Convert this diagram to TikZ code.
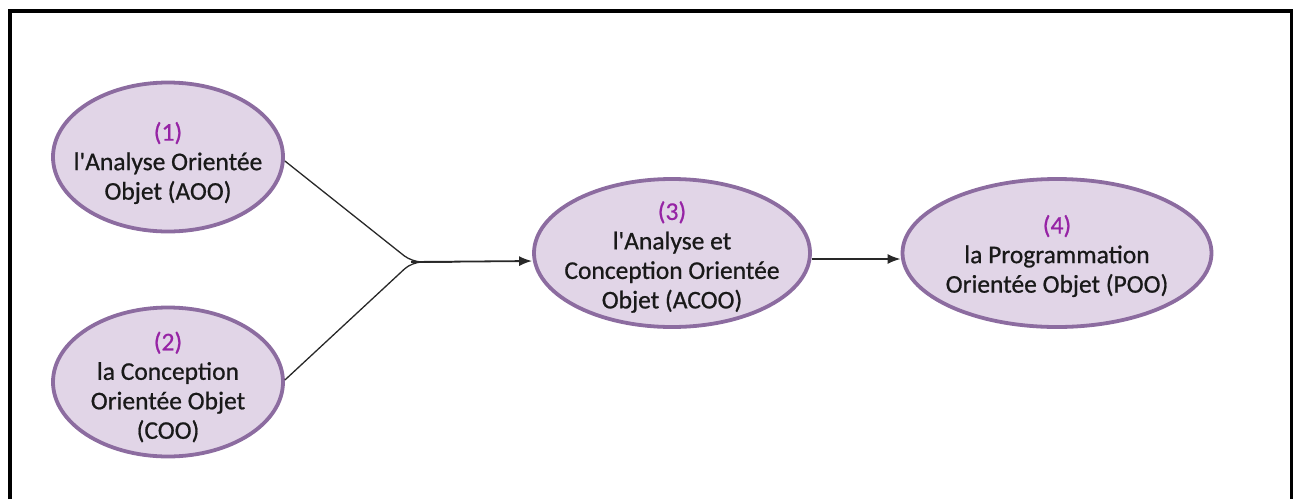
\documentclass[tikz,border=0pt]{standalone}
\usepackage{fontspec}
\setmainfont{Carlito}[Ligatures=TeXOff, FakeBold=0.7]
\usetikzlibrary{shapes.geometric,arrows.meta}
\definecolor{blobfill}{HTML}{E1D5E7}
\definecolor{blobline}{RGB}{140,108,160}
\definecolor{numcol}{RGB}{150,35,165}
\definecolor{txtcol}{RGB}{25,25,25}
\definecolor{linkcol}{RGB}{40,40,40}
\tikzset{
  blob/.style={ellipse, draw=blobline, fill=blobfill, line width=3.8pt, inner sep=0pt},
  txt/.style={align=center, text=txtcol, inner sep=0pt, font=\fontsize{25.5}{29.5}\selectfont},
  link/.style={draw=linkcol, line width=1.3pt},
  flow/.style={draw=linkcol, line width=1.8pt, -{Latex[length=13pt,width=10pt]}},
  frame/.style={draw=black, line width=4pt}
}
\begin{document}
\begin{tikzpicture}[x=1pt, y=-1pt]
  \useasboundingbox (0,0) rectangle (1293,499);
  % outer frame (open at the bottom)
  \draw[frame] (10,499) -- (10,11) -- (1291.5,11);
  \draw[frame, line width=3pt] (1291.5,9) -- (1291.5,499);

  % ellipses
  \node[blob, minimum width=230pt, minimum height=149pt] (e1) at (168,157) {};
  \node[blob, minimum width=230pt, minimum height=149pt] (e2) at (168,382) {};
  \node[blob, minimum width=276pt, minimum height=148pt] (e3) at (672,253) {};
  \node[blob, minimum width=309pt, minimum height=148pt] (e4) at (1057,253) {};

  % labels
  \node[txt] (t1) at ([yshift=-6pt]e1.center) {{\color{numcol}(1)}\\l'Analyse Orientée\\Objet (AOO)};
  \node[txt] (t2) at ([yshift=-5pt]e2.center) {{\color{numcol}(2)}\\la Conception\\Orientée Objet\\(COO)};
  \node[txt] (t3) at ([yshift=-4pt]e3.center) {{\color{numcol}(3)}\\l'Analyse et\\Conception Orientée\\Objet (ACOO)};
  \node[txt] (t4) at ([yshift=-3pt]e4.center) {{\color{numcol}(4)}\\la Programmation\\Orientée Objet (POO)};

  % connectors
  \coordinate (j) at (412,262);
  \draw[link, rounded corners=10pt] ([yshift=-4pt]e1.east) -- (j) -- ++(40,0);
  \draw[link, rounded corners=10pt] ([yshift=2pt]e2.east) -- (j) -- ++(40,0);
  \draw[flow] ([xshift=-1pt]j) -- ([yshift=-8pt]e3.west);
  \draw[flow] ([yshift=-6pt]e3.east) -- ([yshift=-6pt]e4.west);
\end{tikzpicture}
\end{document}
